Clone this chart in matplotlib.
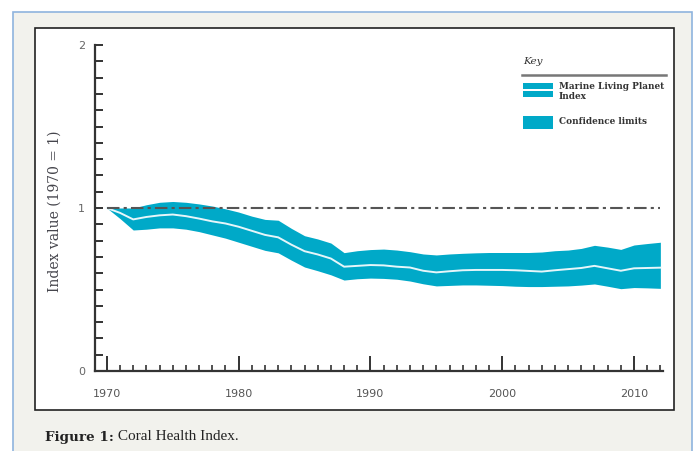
import numpy as np
import matplotlib
matplotlib.use("Agg")
import matplotlib.pyplot as plt
from matplotlib.patches import Rectangle
from matplotlib.lines import Line2D
from matplotlib.ticker import MultipleLocator

# values (index, 1970 = 1)
years = list(range(1970, 2013))
index_mid = [1.00, 0.97, 0.93, 0.945, 0.955, 0.96, 0.95, 0.935, 0.918, 0.905,
             0.885, 0.86, 0.835, 0.82, 0.775, 0.735, 0.715, 0.69, 0.64, 0.645,
             0.65, 0.648, 0.64, 0.635, 0.615, 0.605, 0.612, 0.618, 0.62, 0.62,
             0.62, 0.618, 0.614, 0.61, 0.618, 0.625, 0.632, 0.645, 0.63, 0.615,
             0.63, 0.632, 0.634]
index_hi = [1.00, 1.00, 1.00, 1.02, 1.035, 1.04, 1.035, 1.025, 1.012, 0.995,
            0.975, 0.95, 0.93, 0.925, 0.875, 0.83, 0.81, 0.785, 0.726, 0.738,
            0.745, 0.748, 0.742, 0.732, 0.718, 0.712, 0.718, 0.722, 0.725, 0.727,
            0.727, 0.727, 0.727, 0.73, 0.738, 0.742, 0.752, 0.771, 0.76, 0.746,
            0.773, 0.782, 0.79]
index_lo = [1.00, 0.935, 0.865, 0.87, 0.878, 0.878, 0.87, 0.855, 0.835, 0.815,
            0.79, 0.765, 0.74, 0.725, 0.68, 0.638, 0.615, 0.59, 0.558, 0.566,
            0.57, 0.568, 0.563, 0.552, 0.535, 0.522, 0.525, 0.528, 0.528, 0.526,
            0.524, 0.52, 0.518, 0.518, 0.52, 0.522, 0.527, 0.534, 0.52, 0.505,
            0.512, 0.51, 0.507]
ytick_vals = [0, 1, 2]
xtick_vals = [1970, 1980, 1990, 2000, 2010]

teal = "#00a9c8"
W, H = 700, 451

def fx(px):
    return px / W

def fy(py):
    return 1 - py / H

fig = plt.figure(figsize=(7, 4.51), dpi=100, facecolor="white")

# page background and white panel
fig.add_artist(Rectangle((fx(13), fy(460)), fx(692) - fx(13), fy(12) - fy(460),
                         transform=fig.transFigure, facecolor="#f2f2ed",
                         edgecolor="#8fb4de", lw=1.2, zorder=-3))
fig.add_artist(Rectangle((fx(35), fy(410)), fx(674) - fx(35), fy(28) - fy(410),
                         transform=fig.transFigure, facecolor="white",
                         edgecolor="#222222", lw=1.2, zorder=-2))

ax = fig.add_axes([fx(95), fy(371), fx(663) - fx(95), fy(45) - fy(371)])
ax.set_facecolor("none")

ax.fill_between(years, index_lo, index_hi, color=teal, lw=0, zorder=2)
ax.plot(years, index_mid, color="#e6f6fa", lw=1.4, zorder=3)
ax.plot([years[0], years[-1]], [1, 1], color="#555555", lw=1.5,
        linestyle=(0, (6, 2, 1.5, 2)), zorder=4)

ax.set_xlim(1969.1, 2012.2)
ax.set_ylim(0, 2)
for s in ["top", "right"]:
    ax.spines[s].set_visible(False)
for s in ["left", "bottom"]:
    ax.spines[s].set_color("#333333")
    ax.spines[s].set_linewidth(1.6)

ax.set_yticks(ytick_vals)
ax.yaxis.set_minor_locator(MultipleLocator(0.1))
ax.set_xticks(xtick_vals)
ax.set_xticks(years, minor=True)
ax.tick_params(axis="y", which="both", direction="in", length=6, width=1.4,
               color="#333333", labelcolor="#666666", labelsize=8, pad=7)
ax.tick_params(axis="x", which="major", direction="in", length=11, width=1.4,
               color="#333333", labelcolor="#555555", labelsize=8, pad=13)
ax.tick_params(axis="x", which="minor", direction="in", length=4.5, width=1.2,
               color="#333333")
for lab in ax.get_xticklabels() + ax.get_yticklabels():
    lab.set_family(["Liberation Sans Narrow", "DejaVu Sans"])

ax.set_ylabel("Index value (1970 = 1)", family="DejaVu Serif", fontsize=10,
              color="#45454c")
ax.yaxis.set_label_coords(-0.058, 0.49)

# key
fig.text(fx(523), fy(62), "Key", family="DejaVu Serif", style="italic",
         fontsize=7.5, color="#333333", va="center", ha="left")
fig.add_artist(Line2D([fx(522), fx(666)], [fy(75), fy(75)],
                      transform=fig.transFigure, color="#777777", lw=1.8))
fig.add_artist(Rectangle((fx(523), fy(89)), fx(30), fy(83) - fy(89),
                         transform=fig.transFigure, facecolor=teal, lw=0))
fig.add_artist(Rectangle((fx(523), fy(97)), fx(30), fy(91) - fy(97),
                         transform=fig.transFigure, facecolor=teal, lw=0))
fig.add_artist(Rectangle((fx(523), fy(129)), fx(30), fy(116) - fy(129),
                         transform=fig.transFigure, facecolor=teal, lw=0))
fig.text(fx(559), fy(82), "Marine Living Planet\nIndex", family="DejaVu Serif",
         fontsize=6.4, fontweight="bold", color="#333333", va="top", ha="left",
         linespacing=1.2)
fig.text(fx(559), fy(121), "Confidence limits", family="DejaVu Serif",
         fontsize=6.4, fontweight="bold", color="#333333", va="center", ha="left")

# caption
t1 = fig.text(fx(45), fy(437), "Figure 1:", family="DejaVu Serif",
              fontweight="bold", fontsize=9.7, color="#222222", va="center")
plt.annotate(" Coral Health Index.", xy=(1, 0.5), xycoords=t1, va="center",
             ha="left", family=["Liberation Serif", "DejaVu Serif"],
             fontsize=11, color="#222222", annotation_clip=False)

fig.savefig("out.png", dpi=100, facecolor="white")
